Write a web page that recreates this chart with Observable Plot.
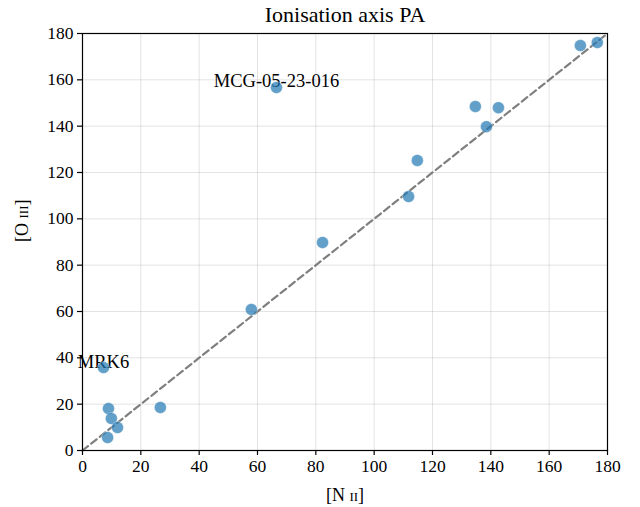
<!DOCTYPE html>
<html>
<head>
<meta charset="utf-8">
<script src="https://cdn.jsdelivr.net/npm/d3@7"></script>
<script src="https://cdn.jsdelivr.net/npm/@observablehq/plot@0.6"></script>
<style>
  body { margin: 0; background: #fff; }
  svg { font-family: "Liberation Serif", "DejaVu Serif", serif; }
</style>
</head>
<body>
<div id="chart"></div>
<script>
const nii  = [7.2, 8.9, 9.9, 12.0, 8.6, 26.7, 57.9, 82.3, 66.5, 111.8, 114.8, 134.7, 138.5, 142.6, 170.7, 176.5];
const oiii = [35.8, 18.1, 13.8, 9.9, 5.6, 18.6, 60.9, 89.8, 156.7, 109.6, 125.2, 148.5, 139.8, 148.0, 174.8, 176.1];
const names = ["MRK6", "", "", "", "", "", "", "", "MCG-05-23-016", "", "", "", "", "", "", ""];
const ticks = [0, 20, 40, 60, 80, 100, 120, 140, 160, 180];
const oneToOne = [0, 180];

const pts = nii.map((x, i) => ({x, y: oiii[i], name: names[i]}));
const labeled = pts.filter(d => d.name);

const chart = Plot.plot({
  width: 640,
  height: 507,
  marginLeft: 82,
  marginRight: 33,
  marginTop: 33,
  marginBottom: 57,
  style: {fontFamily: "Liberation Serif, DejaVu Serif, serif", fontSize: "17.5px", color: "#000", background: "#fff"},
  x: {domain: [0, 180], ticks: ticks, label: null},
  y: {domain: [0, 180], ticks: ticks, label: null},
  marks: [
    Plot.gridX(ticks, {stroke: "#b0b0b0", strokeOpacity: 0.35, strokeWidth: 1}),
    Plot.gridY(ticks, {stroke: "#b0b0b0", strokeOpacity: 0.35, strokeWidth: 1}),
    Plot.line(oneToOne.map(v => ({x: v, y: v})), {x: "x", y: "y", stroke: "#7f7f7f", strokeWidth: 2.2, strokeDasharray: "7,4"}),
    Plot.text(labeled, {x: "x", y: "y", text: "name", textAnchor: "middle", lineAnchor: "bottom", dy: 0, fontSize: 18.5, fill: "#000"}),
    Plot.dot(pts, {x: "x", y: "y", r: 6, fill: "#1f77b4", fillOpacity: 0.7, stroke: "#ffffff", strokeOpacity: 0.35, strokeWidth: 1}),
    Plot.axisX(ticks, {tickSize: 5, tickPadding: 4, fontSize: 17.5, stroke: "#000", strokeWidth: 1.2}),
    Plot.axisY(ticks, {tickSize: 5, tickPadding: 4, fontSize: 17.5, stroke: "#000", strokeWidth: 1.2}),
    Plot.frame({stroke: "#000", strokeWidth: 1.2}),
    Plot.text(["Ionisation axis PA"], {frameAnchor: "top", dy: -19, fontSize: 22, fill: "#000", lineAnchor: "middle"}),
    Plot.text([{t: "[N ii]"}], {text: "t", frameAnchor: "bottom", dy: 45, fontSize: 18, fill: "#000", lineAnchor: "middle", fontVariant: "small-caps"}),
    Plot.text([{t: "[O iii]"}], {text: "t", frameAnchor: "left", dx: -60, rotate: -90, fontSize: 18, fill: "#000", lineAnchor: "middle", fontVariant: "small-caps"})
  ]
});
document.getElementById("chart").appendChild(chart);
</script>
</body>
</html>
